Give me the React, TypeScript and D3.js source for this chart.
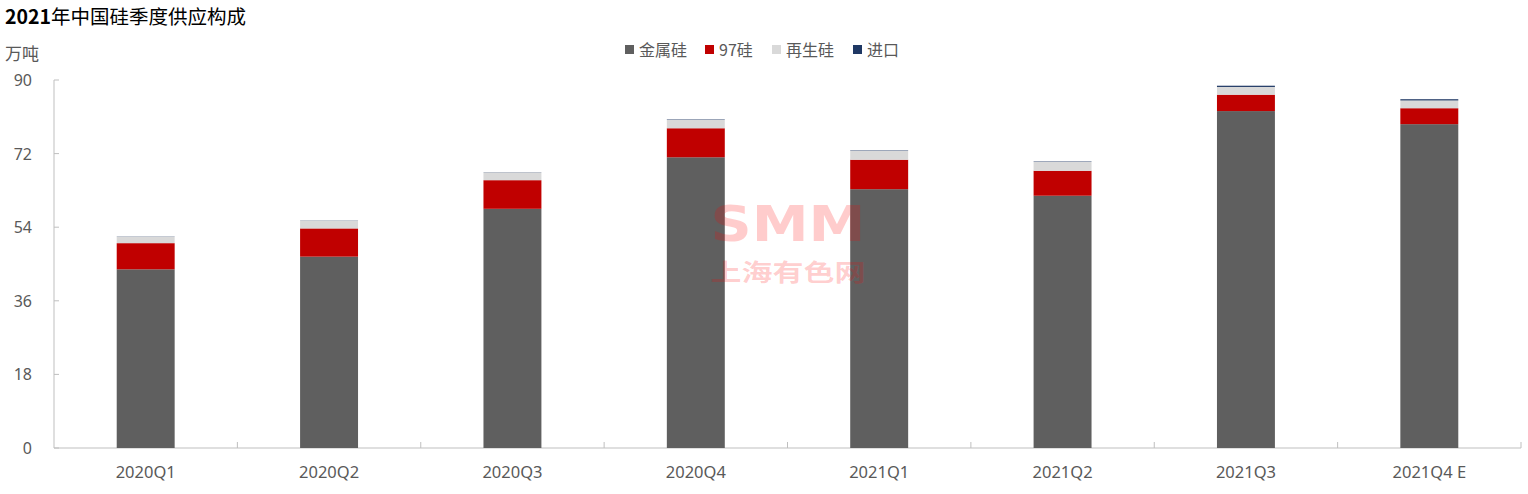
import React from "react";
import * as d3 from "d3";

const categories = ["2020Q1", "2020Q2", "2020Q3", "2020Q4", "2021Q1", "2021Q2", "2021Q3", "2021Q4 E"];
const metalSi = [43.7, 46.8, 58.5, 71.1, 63.3, 61.7, 82.4, 79.2];
const si97 = [6.4, 6.9, 7.0, 7.1, 7.2, 6.1, 4.0, 3.9];
const recycledSi = [1.6, 1.9, 1.9, 2.1, 2.2, 2.2, 1.9, 1.9];
const imports = [0.05, 0.05, 0.05, 0.1, 0.1, 0.1, 0.3, 0.3];
const yTicks = [0, 18, 36, 54, 72, 90];

const seriesNames = ["金属硅", "97硅", "再生硅", "进口"];
const seriesColors = ["#5f5f5f", "#c00000", "#d9d9d9", "#1f3864"];

const W = 1528;
const H = 494;
const margin = { left: 54, right: 7, top: 80, bottom: 46 };

export default function App() {
  const rows = categories.map((c, i) => ({
    cat: c,
    s0: metalSi[i],
    s1: si97[i],
    s2: recycledSi[i],
    s3: imports[i],
  }));
  const keys = ["s0", "s1", "s2", "s3"];
  const stack = d3.stack<any>().keys(keys)(rows);

  const x = d3
    .scaleBand<string>()
    .domain(categories)
    .range([margin.left, W - margin.right])
    .paddingInner(0.684)
    .paddingOuter(0.342);
  const xOuter = d3.scaleBand<string>().domain(categories).range([margin.left, W - margin.right]);
  const y = d3.scaleLinear().domain([0, 90]).range([H - margin.bottom, margin.top]);

  const font = "'Microsoft YaHei','Noto Sans CJK SC','Noto Sans',sans-serif";
  const latin = "'Noto Sans','Noto Sans CJK SC',sans-serif";
  const textColor = "#595959";
  const legendX = [625, 705, 772, 853];

  return (
    <svg width={W} height={H} style={{ position: "absolute", left: 0, top: 0, background: "#fff" }}>
      <text x={5} y={24} fontFamily={font} fontSize={19.5} fill="#000">
        <tspan fontWeight={700}>2021</tspan>
        <tspan>年中国硅季度供应构成</tspan>
      </text>
      <text x={5} y={60} fontFamily={font} fontSize={17} fill={textColor}>
        万吨
      </text>

      {/* legend */}
      {seriesNames.map((n, i) => (
        <g key={n}>
          <rect x={legendX[i]} y={45} width={9} height={9} fill={seriesColors[i]} />
          <text x={legendX[i] + 14} y={56} fontFamily={font} fontSize={16} fill={textColor}>
            {n}
          </text>
        </g>
      ))}

      {/* y axis */}
      <line x1={margin.left} x2={margin.left} y1={y(90)} y2={y(0)} stroke="#bfbfbf" />
      {yTicks.map((t) => (
        <g key={t}>
          <line x1={margin.left} x2={margin.left + 5} y1={y(t)} y2={y(t)} stroke="#bfbfbf" />
          <text x={32} y={y(t) + 6} textAnchor="end" fontFamily={latin} fontSize={16} fill={textColor}>
            {t}
          </text>
        </g>
      ))}

      {/* x axis */}
      <line x1={margin.left} x2={W - margin.right} y1={y(0)} y2={y(0)} stroke="#bfbfbf" />
      {categories.map((c) => (
        <line
          key={c}
          x1={(xOuter(c) as number) + xOuter.bandwidth()}
          x2={(xOuter(c) as number) + xOuter.bandwidth()}
          y1={y(0)}
          y2={y(0) - 6}
          stroke="#bfbfbf"
        />
      ))}
      {categories.map((c) => (
        <text
          key={c}
          x={(x(c) as number) + x.bandwidth() / 2}
          y={478}
          textAnchor="middle"
          fontFamily={latin}
          fontSize={16.5}
          fill={textColor}
        >
          {c}
        </text>
      ))}

      {/* bars */}
      {stack.map((s, si) => (
        <g key={si} fill={seriesColors[si]}>
          {s.map((d: any, i: number) => (
            <rect
              key={i}
              x={x(categories[i]) as number}
              y={y(d[1])}
              width={x.bandwidth()}
              height={Math.max(0, y(d[0]) - y(d[1]))}
            />
          ))}
        </g>
      ))}

      {/* watermark */}
      <g fill="rgb(255,0,0)" fillOpacity={0.2}>
        <text x={788} y={241} textAnchor="middle" fontSize={50} fontWeight={900} fontFamily="'DejaVu Sans','Noto Sans',sans-serif" textLength={155} lengthAdjust="spacingAndGlyphs">
          SMM
        </text>
        <text x={788} y={281} textAnchor="middle" fontSize={24} fontWeight={700} fontFamily="'Noto Sans CJK SC',sans-serif" textLength={155} lengthAdjust="spacingAndGlyphs">
          上海有色网
        </text>
      </g>
    </svg>
  );
}
